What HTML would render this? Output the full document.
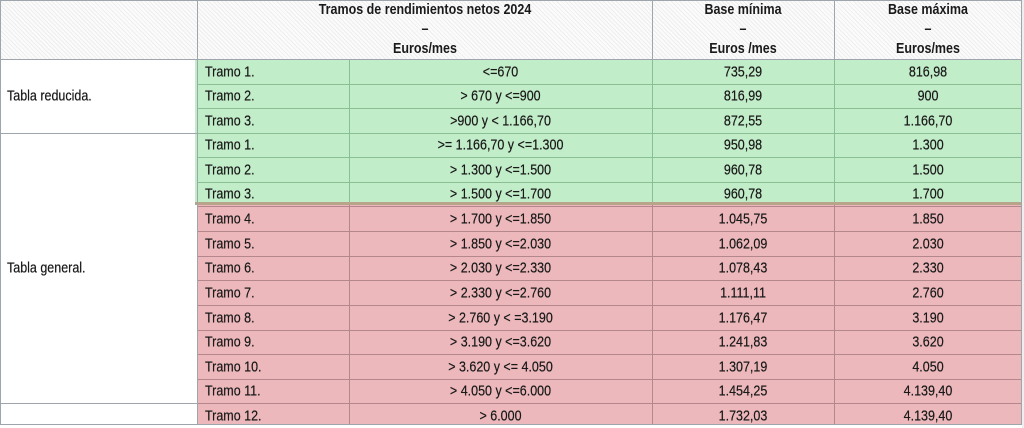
<!DOCTYPE html>
<html><head><meta charset="utf-8"><style>
html,body{margin:0;padding:0;}
body{width:1024px;height:428px;position:relative;overflow:hidden;background:#fff;font-family:"Liberation Sans",Arial,sans-serif;color:#1a1a1a;}
div{position:absolute;box-sizing:border-box;}
.hdr{left:0;top:0;width:1022px;height:59px;background:repeating-linear-gradient(45deg,#fbfbfb 0px,#fbfbfb 2px,#eeeeee 2px,#eeeeee 3px);}
.g{background:#c2edc9;}
.r{background:#edb8bb;}
.gl{background:#9ea5ad;}
.gn{background:#89bf93;}
.rd{background:#b3878b;}
.t{display:flex;align-items:center;font-size:12.5px;white-space:nowrap;}
.t span{display:inline-block;transform:scaleY(1.18);text-shadow:0 0 0.4px #333;}
.c{justify-content:center;}
.l{justify-content:flex-start;padding-left:7px;}
.h{font-weight:bold;font-size:12.5px;text-align:center;line-height:17px;display:flex;align-items:center;justify-content:center;}
.h span{display:inline-block;transform:scaleY(1.15);}
</style></head><body>

<div class="hdr"></div>
<div style="left:1022px;top:0;width:2px;height:428px;background:#eeeeee"></div>

<!-- backgrounds -->
<div class="g" style="left:195px;top:60px;width:827px;height:143px"></div>
<div style="left:195px;top:202px;width:827px;height:3px;background:#b8a48b"></div>
<div class="r" style="left:198px;top:205px;width:824px;height:219px"></div>

<!-- data grid lines green -->
<div class="gn" style="left:198px;top:84px;width:824px;height:1px"></div>
<div class="gn" style="left:198px;top:108px;width:824px;height:1px"></div>
<div class="gn" style="left:198px;top:133px;width:824px;height:1px"></div>
<div class="gn" style="left:198px;top:157px;width:824px;height:1px"></div>
<div class="gn" style="left:198px;top:182px;width:824px;height:1px"></div>
<div class="gn" style="left:349px;top:59px;width:1px;height:143px"></div>
<div class="gn" style="left:652px;top:59px;width:1px;height:143px"></div>
<div class="gn" style="left:834px;top:59px;width:1px;height:143px"></div>

<!-- data grid lines red -->
<div class="rd" style="left:198px;top:206px;width:824px;height:1px"></div>
<div class="rd" style="left:198px;top:231px;width:824px;height:1px"></div>
<div class="rd" style="left:198px;top:256px;width:824px;height:1px"></div>
<div class="rd" style="left:198px;top:280px;width:824px;height:1px"></div>
<div class="rd" style="left:198px;top:305px;width:824px;height:1px"></div>
<div class="rd" style="left:198px;top:330px;width:824px;height:1px"></div>
<div class="rd" style="left:198px;top:354px;width:824px;height:1px"></div>
<div class="rd" style="left:198px;top:379px;width:824px;height:1px"></div>
<div class="rd" style="left:198px;top:403px;width:824px;height:1px"></div>
<div class="rd" style="left:349px;top:205px;width:1px;height:219px"></div>
<div class="rd" style="left:652px;top:205px;width:1px;height:219px"></div>
<div class="rd" style="left:834px;top:205px;width:1px;height:219px"></div>

<!-- gray structural lines -->
<div class="gl" style="left:0;top:0;width:1022px;height:1px"></div>
<div class="gl" style="left:0;top:59px;width:1022px;height:1px"></div>
<div class="gl" style="left:0;top:0;width:1px;height:424px"></div>
<div class="gl" style="left:197px;top:0;width:1px;height:424px"></div>
<div class="gl" style="left:1021px;top:0;width:1px;height:425px"></div>
<div class="gl" style="left:652px;top:0;width:1px;height:59px"></div>
<div class="gl" style="left:834px;top:0;width:1px;height:59px"></div>
<div class="gl" style="left:0;top:133px;width:197px;height:1px"></div>
<div class="gl" style="left:0;top:403px;width:197px;height:1px"></div>
<div class="gl" style="left:0;top:424px;width:1022px;height:1px"></div>

<!-- header text -->
<div class="h" style="left:198px;top:4px;width:454px;height:51px"><span>Tramos de rendimientos netos 2024<br>–<br>Euros/mes</span></div>
<div class="h" style="left:652px;top:4px;width:182px;height:51px"><span>Base mínima<br>–<br>Euros /mes</span></div>
<div class="h" style="left:834px;top:4px;width:188px;height:51px"><span>Base máxima<br>–<br>Euros/mes</span></div>

<!-- left labels -->
<div class="t l" style="left:0;top:59px;width:197px;height:74px"><span>Tabla reducida.</span></div>
<div class="t l" style="left:0;top:133px;width:197px;height:270px"><span>Tabla general.</span></div>

<!-- rows -->
<div class="t l" style="left:198px;top:59px;width:151px;height:25px"><span>Tramo 1.</span></div>
<div class="t c" style="left:349px;top:59px;width:303px;height:25px"><span>&lt;=670</span></div>
<div class="t c" style="left:652px;top:59px;width:182px;height:25px"><span>735,29</span></div>
<div class="t c" style="left:834px;top:59px;width:188px;height:25px"><span>816,98</span></div>

<div class="t l" style="left:198px;top:84px;width:151px;height:24px"><span>Tramo 2.</span></div>
<div class="t c" style="left:349px;top:84px;width:303px;height:24px"><span>&gt; 670 y &lt;=900</span></div>
<div class="t c" style="left:652px;top:84px;width:182px;height:24px"><span>816,99</span></div>
<div class="t c" style="left:834px;top:84px;width:188px;height:24px"><span>900</span></div>

<div class="t l" style="left:198px;top:108px;width:151px;height:25px"><span>Tramo 3.</span></div>
<div class="t c" style="left:349px;top:108px;width:303px;height:25px"><span>&gt;900 y &lt; 1.166,70</span></div>
<div class="t c" style="left:652px;top:108px;width:182px;height:25px"><span>872,55</span></div>
<div class="t c" style="left:834px;top:108px;width:188px;height:25px"><span>1.166,70</span></div>

<div class="t l" style="left:198px;top:133px;width:151px;height:24px"><span>Tramo 1.</span></div>
<div class="t c" style="left:349px;top:133px;width:303px;height:24px"><span>&gt;= 1.166,70 y &lt;=1.300</span></div>
<div class="t c" style="left:652px;top:133px;width:182px;height:24px"><span>950,98</span></div>
<div class="t c" style="left:834px;top:133px;width:188px;height:24px"><span>1.300</span></div>

<div class="t l" style="left:198px;top:157px;width:151px;height:25px"><span>Tramo 2.</span></div>
<div class="t c" style="left:349px;top:157px;width:303px;height:25px"><span>&gt; 1.300 y &lt;=1.500</span></div>
<div class="t c" style="left:652px;top:157px;width:182px;height:25px"><span>960,78</span></div>
<div class="t c" style="left:834px;top:157px;width:188px;height:25px"><span>1.500</span></div>

<div class="t l" style="left:198px;top:182px;width:151px;height:23px"><span>Tramo 3.</span></div>
<div class="t c" style="left:349px;top:182px;width:303px;height:23px"><span>&gt; 1.500 y &lt;=1.700</span></div>
<div class="t c" style="left:652px;top:182px;width:182px;height:23px"><span>960,78</span></div>
<div class="t c" style="left:834px;top:182px;width:188px;height:23px"><span>1.700</span></div>

<div class="t l" style="left:198px;top:206px;width:151px;height:25px"><span>Tramo 4.</span></div>
<div class="t c" style="left:349px;top:206px;width:303px;height:25px"><span>&gt; 1.700 y &lt;=1.850</span></div>
<div class="t c" style="left:652px;top:206px;width:182px;height:25px"><span>1.045,75</span></div>
<div class="t c" style="left:834px;top:206px;width:188px;height:25px"><span>1.850</span></div>

<div class="t l" style="left:198px;top:231px;width:151px;height:25px"><span>Tramo 5.</span></div>
<div class="t c" style="left:349px;top:231px;width:303px;height:25px"><span>&gt; 1.850 y &lt;=2.030</span></div>
<div class="t c" style="left:652px;top:231px;width:182px;height:25px"><span>1.062,09</span></div>
<div class="t c" style="left:834px;top:231px;width:188px;height:25px"><span>2.030</span></div>

<div class="t l" style="left:198px;top:256px;width:151px;height:24px"><span>Tramo 6.</span></div>
<div class="t c" style="left:349px;top:256px;width:303px;height:24px"><span>&gt; 2.030 y &lt;=2.330</span></div>
<div class="t c" style="left:652px;top:256px;width:182px;height:24px"><span>1.078,43</span></div>
<div class="t c" style="left:834px;top:256px;width:188px;height:24px"><span>2.330</span></div>

<div class="t l" style="left:198px;top:280px;width:151px;height:25px"><span>Tramo 7.</span></div>
<div class="t c" style="left:349px;top:280px;width:303px;height:25px"><span>&gt; 2.330 y &lt;=2.760</span></div>
<div class="t c" style="left:652px;top:280px;width:182px;height:25px"><span>1.111,11</span></div>
<div class="t c" style="left:834px;top:280px;width:188px;height:25px"><span>2.760</span></div>

<div class="t l" style="left:198px;top:305px;width:151px;height:25px"><span>Tramo 8.</span></div>
<div class="t c" style="left:349px;top:305px;width:303px;height:25px"><span>&gt; 2.760 y &lt; =3.190</span></div>
<div class="t c" style="left:652px;top:305px;width:182px;height:25px"><span>1.176,47</span></div>
<div class="t c" style="left:834px;top:305px;width:188px;height:25px"><span>3.190</span></div>

<div class="t l" style="left:198px;top:330px;width:151px;height:24px"><span>Tramo 9.</span></div>
<div class="t c" style="left:349px;top:330px;width:303px;height:24px"><span>&gt; 3.190 y &lt;=3.620</span></div>
<div class="t c" style="left:652px;top:330px;width:182px;height:24px"><span>1.241,83</span></div>
<div class="t c" style="left:834px;top:330px;width:188px;height:24px"><span>3.620</span></div>

<div class="t l" style="left:198px;top:354px;width:151px;height:25px"><span>Tramo 10.</span></div>
<div class="t c" style="left:349px;top:354px;width:303px;height:25px"><span>&gt; 3.620 y &lt;= 4.050</span></div>
<div class="t c" style="left:652px;top:354px;width:182px;height:25px"><span>1.307,19</span></div>
<div class="t c" style="left:834px;top:354px;width:188px;height:25px"><span>4.050</span></div>

<div class="t l" style="left:198px;top:379px;width:151px;height:24px"><span>Tramo 11.</span></div>
<div class="t c" style="left:349px;top:379px;width:303px;height:24px"><span>&gt; 4.050 y &lt;=6.000</span></div>
<div class="t c" style="left:652px;top:379px;width:182px;height:24px"><span>1.454,25</span></div>
<div class="t c" style="left:834px;top:379px;width:188px;height:24px"><span>4.139,40</span></div>

<div class="t l" style="left:198px;top:403px;width:151px;height:25px"><span>Tramo 12.</span></div>
<div class="t c" style="left:349px;top:403px;width:303px;height:25px"><span>&gt; 6.000</span></div>
<div class="t c" style="left:652px;top:403px;width:182px;height:25px"><span>1.732,03</span></div>
<div class="t c" style="left:834px;top:403px;width:188px;height:25px"><span>4.139,40</span></div>

</body></html>
